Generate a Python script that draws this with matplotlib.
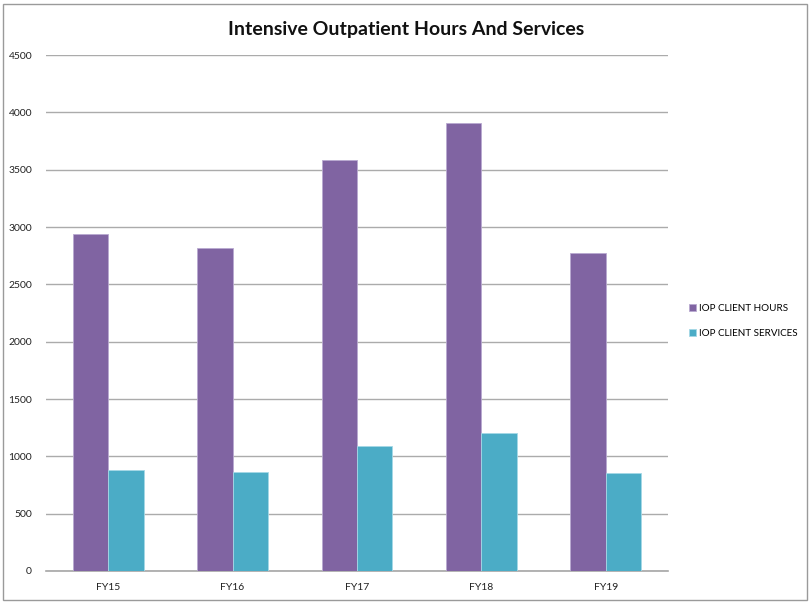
import matplotlib.pyplot as plt
import numpy as np
from matplotlib.patches import Rectangle

plt.rcParams['font.family'] = ['Lato', 'DejaVu Sans']

# valores do gráfico
years = ["FY15", "FY16", "FY17", "FY18", "FY19"]
client_hours = [2938, 2821, 3588, 3907, 2772]
client_services = [880, 863, 1088, 1202, 851]
series_names = ["IOP CLIENT HOURS", "IOP CLIENT SERVICES"]
y_ticks = [0, 500, 1000, 1500, 2000, 2500, 3000, 3500, 4000, 4500]

purple = "#8064A2"
teal = "#4BACC6"

fig = plt.figure(figsize=(8.1, 6.02), dpi=100)
ax = fig.add_axes([46/810, 1 - 571/602, 622/810, 516/602])

x = np.arange(len(years))
w = 0.285
ax.bar(x - w/2, client_hours, w, color=purple, edgecolor="#b9a9d0", linewidth=0.6,
       label=series_names[0], zorder=3)
ax.bar(x + w/2, client_services, w, color=teal, edgecolor="#a5d8e6", linewidth=0.6,
       label=series_names[1], zorder=3)

ax.set_xlim(-0.5, len(years) - 0.5)
ax.set_ylim(0, 4500)
ax.set_yticks(y_ticks)
ax.set_xticks(x)
ax.set_xticklabels(years)
ax.tick_params(axis="both", length=0, labelsize=7.5, colors="#222222")
ax.tick_params(axis="y", pad=10)
ax.tick_params(axis="x", pad=9)
ax.grid(axis="y", color="#ababab", linewidth=1.0, zorder=0)
for s in ["top", "right", "left"]:
    ax.spines[s].set_visible(False)
ax.spines["bottom"].set_color("#a6a6a6")
ax.spines["bottom"].set_linewidth(1.2)

fig.text(406/810, 1 - 29/602, "Intensive Outpatient Hours And Services",
         ha="center", va="center", fontsize=14, fontweight="bold", color="#111111")

ax.legend(loc="center left", bbox_to_anchor=(680/810, 1 - 321/602),
          bbox_transform=fig.transFigure, frameon=False, fontsize=7.1,
          handlelength=0.7, handleheight=0.7, handletextpad=0.3, labelspacing=1.6)

# moldura à volta da figura
fig.patches.append(Rectangle((3/810, 2/602), 804/810, 596/602, transform=fig.transFigure,
                             fill=False, edgecolor="#9a9a9a", linewidth=1.0))

fig.savefig("out.png", dpi=100)
